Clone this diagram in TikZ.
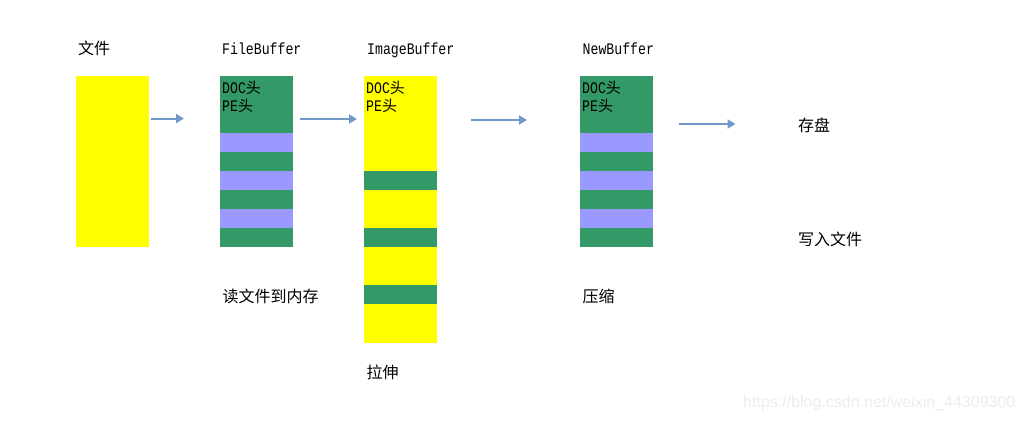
\documentclass[tikz,border=0pt]{standalone}
\usepackage{fontspec}
\usepackage{graphicx}
\setmainfont{Liberation Mono}
\newfontfamily\cjk{Noto Sans CJK SC}
\newfontfamily\wmfont{Liberation Sans}
\usetikzlibrary{arrows.meta}
\definecolor{bgreen}{RGB}{51,153,102}
\definecolor{bpurple}{RGB}{153,153,255}
\definecolor{byellow}{RGB}{255,255,0}
\definecolor{barrow}{RGB}{112,152,200}
\definecolor{wmgray}{RGB}{236,236,236}
\newcommand{\tall}[1]{\scalebox{1}[1.22]{#1}}
\tikzset{
  band/.style={inner sep=0pt, outer sep=0pt, minimum width=73pt, anchor=north west, draw=none},
  cjklabel/.style={inner sep=0pt, anchor=base west, font=\cjk\fontsize{16pt}{18pt}\selectfont},
  monolabel/.style={inner sep=0pt, anchor=base west, font=\fontsize{13.2pt}{15pt}\selectfont},
  flow/.style={draw=barrow, line width=2pt, -{Triangle[length=8pt,width=9pt]}},
}
\newcommand{\hd}[1]{\tall{\fontsize{13.2pt}{15pt}\selectfont #1}{\cjk\fontsize{15pt}{15pt}\selectfont 头}}
\begin{document}
\begin{tikzpicture}[x=1pt,y=-1pt]
\useasboundingbox (0,0) rectangle (1024,420);
% file
\node[band, fill=byellow, minimum height=171pt] (file) at (76,76) {};
% FileBuffer
\node[band, fill=bgreen, minimum height=57pt] (fb1) at (220,76) {};
\node[band, fill=bpurple, minimum height=19pt] (fb2) at (220,133) {};
\node[band, fill=bgreen, minimum height=19pt] (fb3) at (220,152) {};
\node[band, fill=bpurple, minimum height=19pt] (fb4) at (220,171) {};
\node[band, fill=bgreen, minimum height=19pt] (fb5) at (220,190) {};
\node[band, fill=bpurple, minimum height=19pt] (fb6) at (220,209) {};
\node[band, fill=bgreen, minimum height=19pt] (fb7) at (220,228) {};
% ImageBuffer
\node[band, fill=byellow, minimum height=95pt] (ib1) at (364,76) {};
\node[band, fill=bgreen, minimum height=19pt] (ib2) at (364,171) {};
\node[band, fill=byellow, minimum height=38pt] (ib3) at (364,190) {};
\node[band, fill=bgreen, minimum height=19pt] (ib4) at (364,228) {};
\node[band, fill=byellow, minimum height=38pt] (ib5) at (364,247) {};
\node[band, fill=bgreen, minimum height=19pt] (ib6) at (364,285) {};
\node[band, fill=byellow, minimum height=39pt] (ib7) at (364,304) {};
% NewBuffer
\node[band, fill=bgreen, minimum height=57pt] (nb1) at (580,76) {};
\node[band, fill=bpurple, minimum height=19pt] (nb2) at (580,133) {};
\node[band, fill=bgreen, minimum height=19pt] (nb3) at (580,152) {};
\node[band, fill=bpurple, minimum height=19pt] (nb4) at (580,171) {};
\node[band, fill=bgreen, minimum height=19pt] (nb5) at (580,190) {};
\node[band, fill=bpurple, minimum height=19pt] (nb6) at (580,209) {};
\node[band, fill=bgreen, minimum height=19pt] (nb7) at (580,228) {};
% header texts inside
\node[inner sep=0pt, anchor=base west] (fbdoc) at (222,93) {\hd{DOC}};
\node[inner sep=0pt, anchor=base west] (fbpe) at (222,111) {\hd{PE}};
\node[inner sep=0pt, anchor=base west] (ibdoc) at (366,93) {\hd{DOC}};
\node[inner sep=0pt, anchor=base west] (ibpe) at (366,111) {\hd{PE}};
\node[inner sep=0pt, anchor=base west] (nbdoc) at (582,93) {\hd{DOC}};
\node[inner sep=0pt, anchor=base west] (nbpe) at (582,111) {\hd{PE}};
% titles
\node[cjklabel] (tfile) at (78,55) {文件};
\node[monolabel] (tfb) at (222,55) {\tall{FileBuffer}};
\node[monolabel] (tib) at (367,55) {\tall{ImageBuffer}};
\node[monolabel] (tnb) at (582.5,55) {\tall{NewBuffer}};
% captions
\node[cjklabel] (cread) at (222.5,302) {读文件到内存};
\node[cjklabel] (cstretch) at (366.5,378) {拉伸};
\node[cjklabel] (ccomp) at (582.5,302) {压缩};
\node[cjklabel] (csave) at (798,131) {存盘};
\node[cjklabel] (cwrite) at (798,245) {写入文件};
% arrows
\coordinate (a1s) at (150.5,118.5); \coordinate (a1e) at (184,118.5);
\coordinate (a2s) at (300,119); \coordinate (a2e) at (357,119);
\coordinate (a3s) at (471,120); \coordinate (a3e) at (527,120);
\coordinate (a4s) at (679,124); \coordinate (a4e) at (735.5,124);
\draw[flow] (a1s) -- (a1e);
\draw[flow] (a2s) -- (a2e);
\draw[flow] (a3s) -- (a3e);
\draw[flow] (a4s) -- (a4e);
% watermark
\node[inner sep=0pt, anchor=base west, text=wmgray, font=\wmfont\fontsize{16pt}{18pt}\selectfont] (wm) at (743,407) {https://blog.csdn.net/weixin\_44309300};
\end{tikzpicture}
\end{document}
